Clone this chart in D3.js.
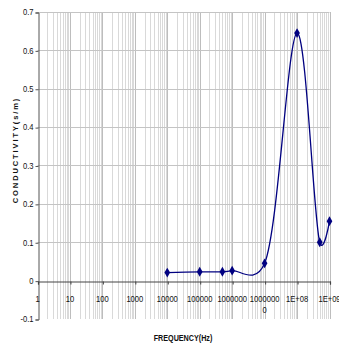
<!DOCTYPE html>
<html>
<head>
<meta charset="utf-8">
<script src="https://cdn.jsdelivr.net/npm/d3@7"></script>
<style>
  html, body { margin: 0; padding: 0; background: #fff; }
  svg { display: block; }
  text { font-family: "Liberation Sans", Arial, sans-serif; }
</style>
</head>
<body>
<svg id="chart" width="339" height="347"></svg>
<script>
// Measured conductivity vs. frequency
const frequencies = [1e4, 1e5, 5e5, 1e6, 1e7, 1e8, 5e8, 1e9];
const conductivity = [0.021, 0.023, 0.023, 0.026, 0.045, 0.645, 0.100, 0.155];

const yTicks = [-0.1, 0, 0.1, 0.2, 0.3, 0.4, 0.5, 0.6, 0.7];
const yTickLabels = ["-0.1", "0", "0.1", "0.2", "0.3", "0.4", "0.5", "0.6", "0.7"];
const xTicks = [1, 10, 100, 1000, 1e4, 1e5, 1e6, 1e7, 1e8, 1e9];
const xTickLabels = ["1", "10", "100", "1000", "10000", "100000", "1000000", "1000000\n0", "1E+08", "1E+09"];

const svg = d3.select("#chart");
const plotLeft = 37.5, plotRight = 329.5, plotTop = 12, plotBottom = 319;

const x = d3.scaleLog().domain([1, 1e9]).range([plotLeft, plotRight]);
const y = d3.scaleLinear().domain([-0.1, 0.7]).range([plotBottom, plotTop]);

// Minor log gridlines (2..9 within each decade)
const minor = [];
for (let d = 1; d < 1e9; d *= 10) for (let k = 2; k <= 9; k++) minor.push(d * k);
svg.append("g").selectAll("line").data(minor).join("line")
  .attr("x1", d => Math.round(x(d)) + 0.5).attr("x2", d => Math.round(x(d)) + 0.5)
  .attr("y1", plotTop).attr("y2", plotBottom)
  .attr("stroke", "#d9d9d9").attr("stroke-width", 1);

// Major decade gridlines
svg.append("g").selectAll("line").data(xTicks.slice(1)).join("line")
  .attr("x1", d => Math.round(x(d)) + 0.5).attr("x2", d => Math.round(x(d)) + 0.5)
  .attr("y1", plotTop).attr("y2", plotBottom)
  .attr("stroke", "#bdbdbd").attr("stroke-width", 1);

// Horizontal gridlines
svg.append("g").selectAll("line").data(yTicks.filter(v => v > 0)).join("line")
  .attr("x1", plotLeft).attr("x2", plotRight)
  .attr("y1", d => Math.round(y(d)) + 0.5).attr("y2", d => Math.round(y(d)) + 0.5)
  .attr("stroke", "#c4c4c4").attr("stroke-width", 1);

// Y axis with ticks pointing left
const yAxis = d3.axisLeft(y).tickValues(yTicks).tickSize(3).tickFormat("");
const yg = svg.append("g").attr("transform", `translate(${Math.round(plotLeft) + 0.5},0.5)`).call(yAxis);
yg.select(".domain").attr("stroke", "#555");
yg.selectAll(".tick line").attr("stroke", "#555");

// Y tick labels (narrow)
const sx = 0.8;
svg.append("g").selectAll("text").data(yTicks).join("text")
  .attr("transform", d => `translate(33.5,${y(d) + 3.3}) scale(${sx},1)`)
  .attr("text-anchor", "end")
  .attr("font-size", 9.5)
  .attr("fill", "#111")
  .text((d, i) => yTickLabels[i]);

// X axis along zero line, ticks pointing down
const xAxis = d3.axisBottom(x).tickValues(xTicks).tickSize(3).tickFormat("");
const xg = svg.append("g").attr("transform", `translate(0.5,${Math.round(y(0)) + 0.5})`).call(xAxis);
xg.select(".domain").attr("stroke", "#444").attr("stroke-width", 1.2);
xg.selectAll(".tick line").attr("stroke", "#444");

// X tick labels (may wrap to two lines)
const xl = svg.append("g").selectAll("text").data(xTicks).join("text")
  .attr("transform", d => `translate(${x(d)},301.5) scale(${sx},1)`)
  .attr("text-anchor", "middle")
  .attr("font-size", 9.5)
  .attr("fill", "#111");
xl.each(function(d, i) {
  const lines = xTickLabels[i].split("\n");
  lines.forEach((s, j) => {
    d3.select(this).append("tspan").attr("x", 0).attr("dy", j === 0 ? 0 : 11.5).text(s);
  });
});

// Curve
const line = d3.line()
  .x((d, i) => x(frequencies[i]))
  .y(d => y(d))
  .curve(d3.curveCatmullRom.alpha(0.2));
svg.append("path")
  .datum(conductivity)
  .attr("d", line)
  .attr("fill", "none")
  .attr("stroke", "#000080")
  .attr("stroke-width", 1.3);

// Markers
svg.append("g").selectAll("path").data(conductivity).join("path")
  .attr("transform", (d, i) => `translate(${x(frequencies[i])},${y(d)})`)
  .attr("d", d3.symbol().type(d3.symbolDiamond).size(28))
  .attr("fill", "#000080");

// Axis titles
svg.append("text")
  .attr("transform", `translate(18,150) rotate(-90)`)
  .attr("text-anchor", "middle")
  .attr("font-size", 7.5)
  .attr("font-weight", "bold")
  .attr("letter-spacing", 1.9)
  .attr("fill", "#111")
  .text("CONDUCTIVITY(s/m)");

svg.append("text")
  .attr("transform", `translate(183,341) scale(0.8,1)`)
  .attr("text-anchor", "middle")
  .attr("font-size", 9)
  .attr("font-weight", "bold")
  .attr("fill", "#111")
  .text("FREQUENCY(Hz)");
</script>
</body>
</html>
